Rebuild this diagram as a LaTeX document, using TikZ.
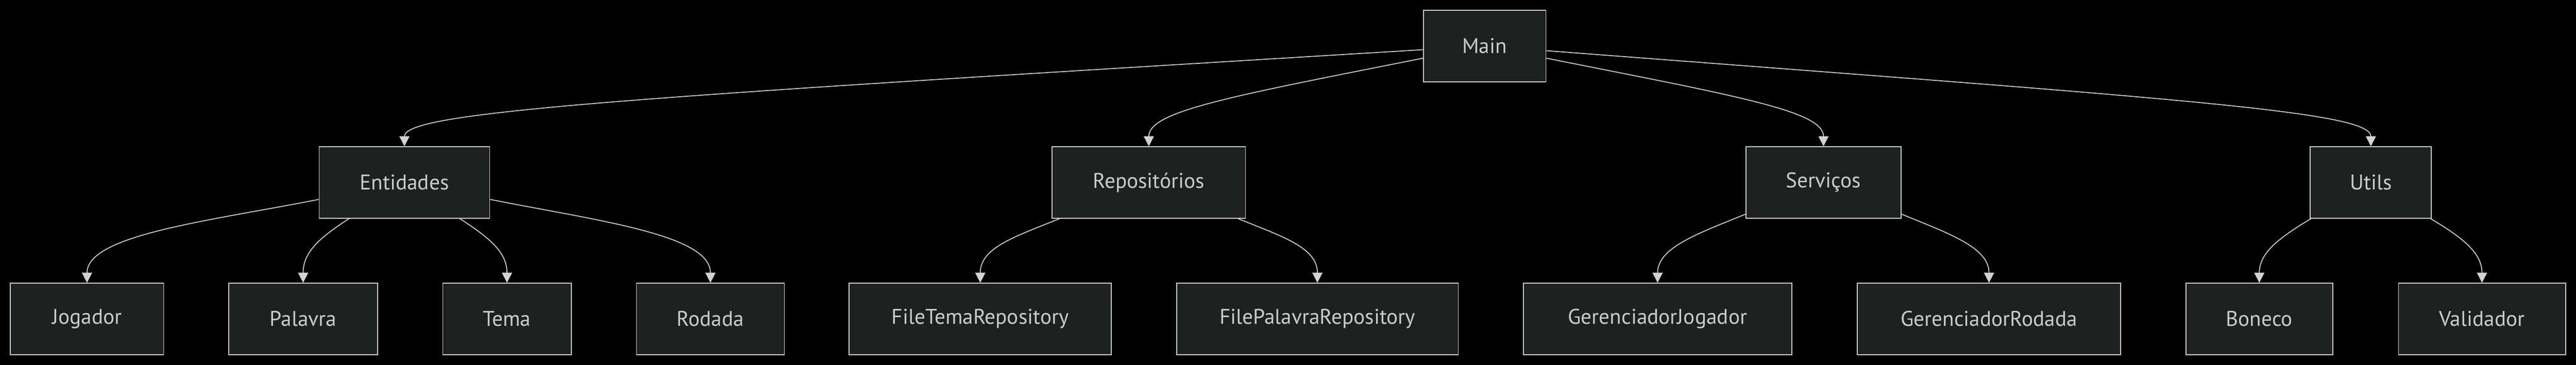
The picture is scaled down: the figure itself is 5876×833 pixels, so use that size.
\documentclass[tikz,border=0pt]{standalone}
\usepackage{fontspec}
\setmainfont{PT Sans}
\usetikzlibrary{arrows.meta}
\definecolor{nodebg}{HTML}{1F2020}
\definecolor{nodeline}{HTML}{CCCCCC}
\definecolor{edgeline}{HTML}{D3D3D3}
\begin{document}
\begin{tikzpicture}[x=0.01cm,y=-0.01cm,
	box/.style={draw=nodeline, fill=nodebg, line width=0.57pt, text=nodeline, inner sep=0pt, minimum height=1.63cm, font=\fontsize{13.8pt}{16pt}\selectfont},
	>={Triangle[length=0.23cm,width=0.23cm]}]
	\fill[black] (0,0) rectangle (5876,833);
	\useasboundingbox (0,0) rectangle (5876,833);
			% top
			\node	(main) at (3386.5,105) [box, minimum width=2.79cm] {Main};
			% packages
			\node	(ent) at (922.5,416.5) [box, minimum width=3.89cm] {Entidades};
			\node	(rep) at (2620.5,416.5) [box, minimum width=4.41cm] {Repositórios};
			\node	(serv) at (4159.5,416.5) [box, minimum width=3.53cm] {Serviços};
			\node	(util) at (5408,416.5) [box, minimum width=2.76cm] {Utils};
			% classes
			\node	(jog) at (198.5,728) [box, minimum width=3.49cm] {Jogador};
			\node	(pal) at (691.5,728) [box, minimum width=3.39cm] {Palavra};
			\node	(tema) at (1156.5,728) [box, minimum width=2.93cm] {Tema};
			\node	(rod) at (1620.5,728) [box, minimum width=3.37cm] {Rodada};
			\node	(ftr) at (2236,728) [box, minimum width=5.98cm] {FileTemaRepository};
			\node	(fpr) at (3005,728) [box, minimum width=6.42cm] {FilePalavraRepository};
			\node	(gj) at (3781,728) [box, minimum width=6.12cm] {GerenciadorJogador};
			\node	(gr) at (4537,728) [box, minimum width=6.00cm] {GerenciadorRodada};
			\node	(bon) at (5153.5,728) [box, minimum width=3.35cm] {Boneco};
			\node	(val) at (5661.5,728) [box, minimum width=3.81cm] {Validador};
			\draw[edgeline, line width=0.57pt]
			(main) edge[->, out=183.5, in=90, out distance=18cm, in distance=0.8cm] (ent)
			(main) edge[->, out=191.3, in=90, out distance=4.5cm, in distance=0.8cm] (rep)
			(main) edge[->, out=-11.3, in=90, out distance=4.5cm, in distance=0.8cm] (serv)
			(main) edge[->, out=-4.4, in=90, out distance=14.5cm, in distance=0.8cm] (util)
			(ent) edge[->, out=191.4, in=90, out distance=2.5cm, in distance=1.1cm] (jog)
			(ent) edge[->, out=213.4, in=90, out distance=0.8cm, in distance=0.7cm] (pal)
			(ent) edge[->, out=-33.4, in=90, out distance=0.8cm, in distance=0.7cm] (tema)
			(ent) edge[->, out=-11.4, in=90, out distance=2.5cm, in distance=1.1cm] (rod)
			(rep) edge[->, out=202.2, in=90, out distance=1.1cm, in distance=0.8cm] (ftr)
			(rep) edge[->, out=-22.2, in=90, out distance=1.1cm, in distance=0.8cm] (fpr)
			(serv) edge[->, out=202.4, in=90, out distance=1.2cm, in distance=0.8cm] (gj)
			(serv) edge[->, out=-22.4, in=90, out distance=1.2cm, in distance=0.8cm] (gr)
			(util) edge[->, out=211.5, in=90, out distance=0.8cm, in distance=0.7cm] (bon)
			(util) edge[->, out=-31.5, in=90, out distance=0.8cm, in distance=0.7cm] (val)
			;
		\end{tikzpicture}
\end{document}
